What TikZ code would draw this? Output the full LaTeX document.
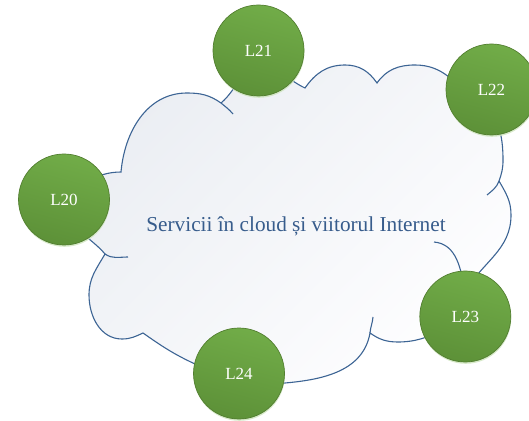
\documentclass[tikz,border=0pt]{standalone}
\usepackage{fontspec}
\setmainfont{Liberation Serif}
\usetikzlibrary{shadows}
\definecolor{cloudline}{RGB}{60,100,148}
\definecolor{cloudA}{RGB}{235,238,243}
\definecolor{cloudB}{RGB}{254,254,255}
\definecolor{greenA}{RGB}{113,172,72}
\definecolor{greenB}{RGB}{93,145,56}
\definecolor{greenD}{RGB}{82,126,48}
\definecolor{glow}{RGB}{205,228,188}
\definecolor{txtblue}{RGB}{55,92,140}
\begin{document}
\begin{tikzpicture}[x=1pt,y=1pt,
  cloudedge/.style={draw=cloudline, line width=1.1pt, line join=miter},
  hookline/.style={draw=cloudline, line width=1.1pt},
  lnode/.style={circle, minimum size=91pt, inner sep=0pt, draw=greenD, line width=0.7pt,
    top color=greenA, bottom color=greenB, shading angle=-15, text=white,
    font=\fontsize{17}{17}\selectfont,
    drop shadow={fill=glow, opacity=0.8, shadow xshift=0.4pt, shadow yshift=-1.8pt}},
  maintext/.style={text=txtblue, font=\fontsize{21.25}{24}\selectfont, inner sep=0pt}]
\useasboundingbox (0,0) rectangle (529,420);
% cusps of the cloud outline
\coordinate (c1) at (121,248);
\coordinate (c2) at (221,317);
\coordinate (c3) at (305,332);
\coordinate (c4) at (377,337);
\coordinate (c5) at (475,315);
\coordinate (c6) at (499,239);
\coordinate (c7) at (465,128);
\coordinate (c8) at (370,87);
\coordinate (c9) at (143,87);
\coordinate (c10) at (105,166);
% hook ends
\coordinate (hA) at (233,306);
\coordinate (hE) at (487,225);
\coordinate (hG) at (434,178);
\coordinate (hH) at (373,103);
\coordinate (hJ) at (128,163);
% cloud
\path[cloudedge, top color=cloudA, bottom color=cloudB, shading angle=45]
 (c1) to[out=85,in=180] (187,327) to[out=0,in=145] (c2)
 to[out=40,in=180] (262,352) to[out=0,in=155] (c3)
 to[out=55,in=180] (345,355) to[out=0,in=125] (c4)
 to[out=55,in=180] (415,355) to[out=0,in=130] (c5)
 to[out=-10,in=90] (503,260) to[out=-90,in=70] (c6)
 to[out=-60,in=90] (511,205) to[out=-90,in=60] (c7)
 to[out=-100,in=0] (398,78) to[out=180,in=-35] (c8)
 to[out=-100,in=5] (285,37) to[out=185,in=-25] (195,56) to[out=155,in=-35] (c9)
 to[out=-155,in=0] (122,81) to[out=180,in=-90] (89,125) to[out=90,in=-120] (c10)
 to[out=130,in=-90] (72,210) to[out=90,in=180] (c1) -- cycle;
% interior hooks
\draw[hookline] (c2) to[out=-40,in=130] (hA);
\draw[hookline] (c6) to[out=-110,in=40] (hE);
\draw[hookline] (hG) to[out=-5,in=100] (c7);
\draw[hookline] (hH) to[out=-95,in=85] (c8);
\draw[hookline] (c10) to[out=-35,in=180] (hJ);
% title
\node[maintext, anchor=base] (title) at (296,188.3) {Servicii în cloud și viitorul Internet};
% circles
\node[lnode] (L20) at (64,220.5) {L20};
\node[lnode] (L21) at (258.5,369.5) {L21};
\node[lnode] (L22) at (491.5,330.5) {L22};
\node[lnode] (L23) at (465.3,103.5) {L23};
\node[lnode] (L24) at (239,46.5) {L24};
\end{tikzpicture}
\end{document}
